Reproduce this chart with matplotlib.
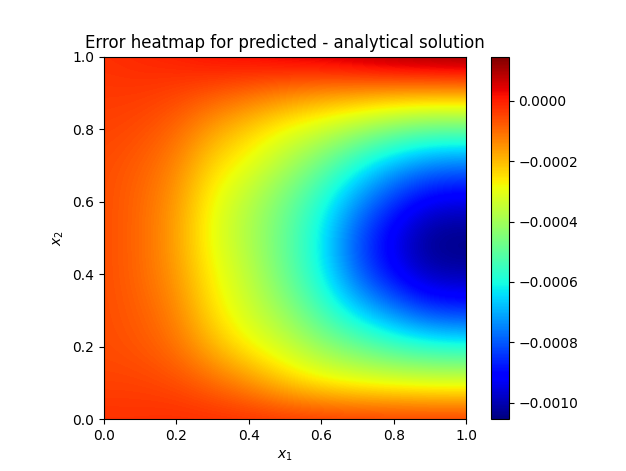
import numpy as np
import matplotlib
matplotlib.use("Agg")
import matplotlib.pyplot as plt

# grid nodes
x1_values = [0.0, 0.1, 0.2, 0.3, 0.4, 0.5, 0.6, 0.7, 0.8, 0.9, 1.0]
x2_values = [0.0, 0.1, 0.2, 0.3, 0.4, 0.5, 0.6, 0.7, 0.8, 0.9, 1.0]
scale = 1e-4

# error values (x 1e-4); each inner list is one x1 column, going x2 = 0 -> 1
error_by_x1 = [
    [-0.22, -0.46, -0.58, -0.58, -0.58, -0.58, -0.58, -0.58, -0.46, -0.34, -0.22],
    [-0.22, -0.46, -0.70, -0.82, -0.94, -0.94, -0.94, -0.82, -0.58, -0.34, -0.10],
    [-0.16, -0.58, -1.06, -1.31, -1.55, -1.67, -1.55, -1.31, -0.94, -0.46, 0.02],
    [-0.16, -0.94, -1.91, -2.51, -2.75, -3.00, -2.88, -2.39, -1.67, -0.70, 0.26],
    [-0.16, -1.43, -2.75, -3.36, -3.60, -3.84, -3.72, -3.00, -2.27, -0.94, 0.38],
    [-0.16, -2.15, -3.36, -4.20, -4.81, -4.93, -4.69, -3.84, -2.88, -1.25, 0.62],
    [-0.16, -2.63, -4.20, -5.41, -6.13, -6.25, -5.89, -4.81, -3.36, -1.43, 0.75],
    [-0.16, -2.88, -4.81, -6.62, -7.94, -8.19, -7.34, -6.01, -3.96, -1.50, 0.99],
    [-0.16, -3.00, -5.41, -7.58, -9.15, -9.45, -8.55, -6.98, -4.57, -1.55, 1.23],
    [-0.16, -3.12, -5.77, -8.43, -10.05, -10.50, -9.39, -7.58, -4.93, -1.55, 1.35],
    [-0.16, -3.12, -5.89, -8.55, -10.12, -10.55, -9.51, -7.70, -4.93, -1.55, 1.47],
]

Z = np.array(error_by_x1).T * scale  # rows = x2, cols = x1

dx = (x1_values[1] - x1_values[0]) / 2
dy = (x2_values[1] - x2_values[0]) / 2

fig = plt.figure(figsize=(6.26, 4.71), dpi=100)
ax = fig.add_subplot(111)
im = ax.imshow(Z, origin="lower", cmap="jet", interpolation="bicubic",
               extent=[x1_values[0] - dx, x1_values[-1] + dx,
                       x2_values[0] - dy, x2_values[-1] + dy])
ax.set_xlim(0, 1)
ax.set_ylim(0, 1)
plt.colorbar(im)
ax.set_title("Error heatmap for predicted - analytical solution")
ax.set_xlabel("$x_1$")
ax.set_ylabel("$x_2$")
fig.savefig("out.png", dpi=100)
